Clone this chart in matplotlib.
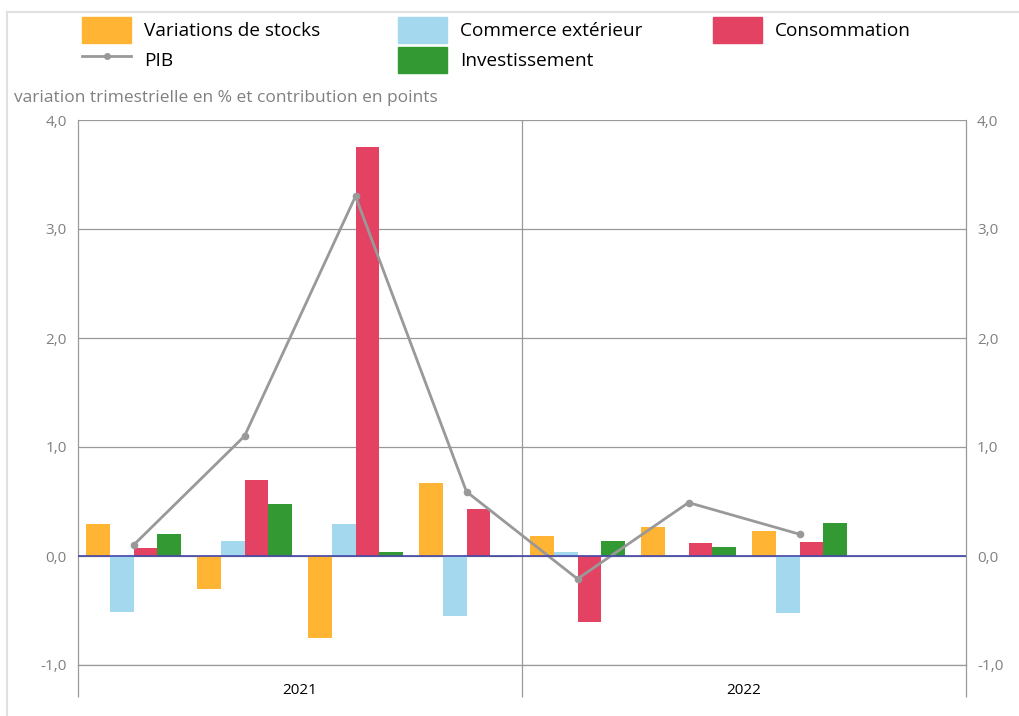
import numpy as np
import matplotlib.pyplot as plt
from matplotlib.patches import Patch
from matplotlib.lines import Line2D

plt.rcParams['font.family'] = ['Open Sans', 'DejaVu Sans']

# DATA (contributions in points, PIB in %)
quarters = ['T1 2021', 'T2 2021', 'T3 2021', 'T4 2021', 'T1 2022', 'T2 2022', 'T3 2022', 'T4 2022']
stocks = [0.29, -0.30, -0.75, 0.67, 0.18, 0.27, 0.23, np.nan]
commerce = [-0.51, 0.14, 0.29, -0.55, 0.04, 0.01, -0.52, np.nan]
conso = [0.07, 0.70, 3.75, 0.43, -0.61, 0.12, 0.13, np.nan]
invest = [0.20, 0.48, 0.04, -0.01, 0.14, 0.08, 0.30, np.nan]
pib = [0.10, 1.10, 3.30, 0.59, -0.21, 0.49, 0.20, np.nan]
years = ['2021', '2022']

names = ['Variations de stocks', 'Commerce extérieur', 'Consommation', 'Investissement']
colors = ['#FFB533', '#A3D8EF', '#E34262', '#339933']
series = [stocks, commerce, conso, invest]

W, H = 1019, 716
fig = plt.figure(figsize=(W/100, H/100), dpi=100)
ax = fig.add_axes([78/W, 51/H, (966-78)/W, 545/H])

x = np.arange(len(quarters))
bw = 0.216
for k, (vals, c, n) in enumerate(zip(series, colors, names)):
    ax.bar(x + (k-1.5)*bw, vals, width=bw, color=c, label=n, zorder=3)

ax.plot(x, pib, color='#999999', lw=2, marker='o', ms=4.5, zorder=4)
ax.axhline(0, color='#4646a8', lw=1.2, zorder=5)
ax.axvline(3.5, color='#999999', lw=0.9, zorder=1)

ax.set_xlim(-0.5, 7.5)
ax.set_ylim(-1, 4)
ticks = [-1, 0, 1, 2, 3, 4]
tick_labels = ['-1,0', '0,0', '1,0', '2,0', '3,0', '4,0']
ax.set_yticks(ticks)
ax.set_yticklabels(tick_labels)
ax.grid(axis='y', color='#999999', lw=0.9, zorder=0)
ax.tick_params(axis='y', length=0, labelsize=11, labelcolor='#808080', pad=8)

ax.set_xticks([1.5, 5.5])
ax.set_xticklabels(years)
ax.set_xticks([-0.5, 3.5, 7.5], minor=True)
ax.tick_params(axis='x', which='major', length=0, labelsize=11, pad=13)
ax.tick_params(axis='x', which='minor', length=23, color='#999999', width=0.9)

ax.spines['top'].set_visible(False)
for s in ['left', 'right', 'bottom']:
    ax.spines[s].set_color('#999999')
    ax.spines[s].set_linewidth(0.9)

ax2 = ax.twinx()
ax2.set_ylim(-1, 4)
ax2.set_yticks(ticks)
ax2.set_yticklabels(tick_labels)
ax2.tick_params(axis='y', length=0, labelsize=11, labelcolor='#808080', pad=8)
for s in ['top', 'left', 'bottom', 'right']:
    ax2.spines[s].set_visible(False)

fig.text(14/W, 1 - 98/H, 'variation trimestrielle en % et contribution en points',
         fontsize=12.5, color='#808080', va='center', ha='left')

# outer frame
fig.add_artist(Line2D([7/W, 7/W], [0, 1 - 12/H], color='#e0e0e0', lw=1.5))
fig.add_artist(Line2D([7/W, 1], [1 - 12/H, 1 - 12/H], color='#e0e0e0', lw=1.5))

# legend
h_st = Patch(color=colors[0])
h_co = Patch(color=colors[1])
h_cs = Patch(color=colors[2])
h_in = Patch(color=colors[3])
h_pib = Line2D([], [], color='#999999', lw=2, marker='o', ms=4)
opts = dict(loc='upper left', frameon=False, fontsize=13.7, handlelength=2.58,
            handleheight=1.73, labelspacing=0.2, handletextpad=0.68, borderpad=0,
            borderaxespad=0)
fig.legend([h_st, h_pib], ['Variations de stocks', 'PIB'], bbox_to_anchor=(82/W, 1 - 17/H), **opts)
fig.legend([h_co, h_in], ['Commerce extérieur', 'Investissement'], bbox_to_anchor=(398/W, 1 - 17/H), **opts)
fig.legend([h_cs], ['Consommation'], bbox_to_anchor=(713/W, 1 - 17/H), **opts)

fig.savefig('out.png', dpi=100)
